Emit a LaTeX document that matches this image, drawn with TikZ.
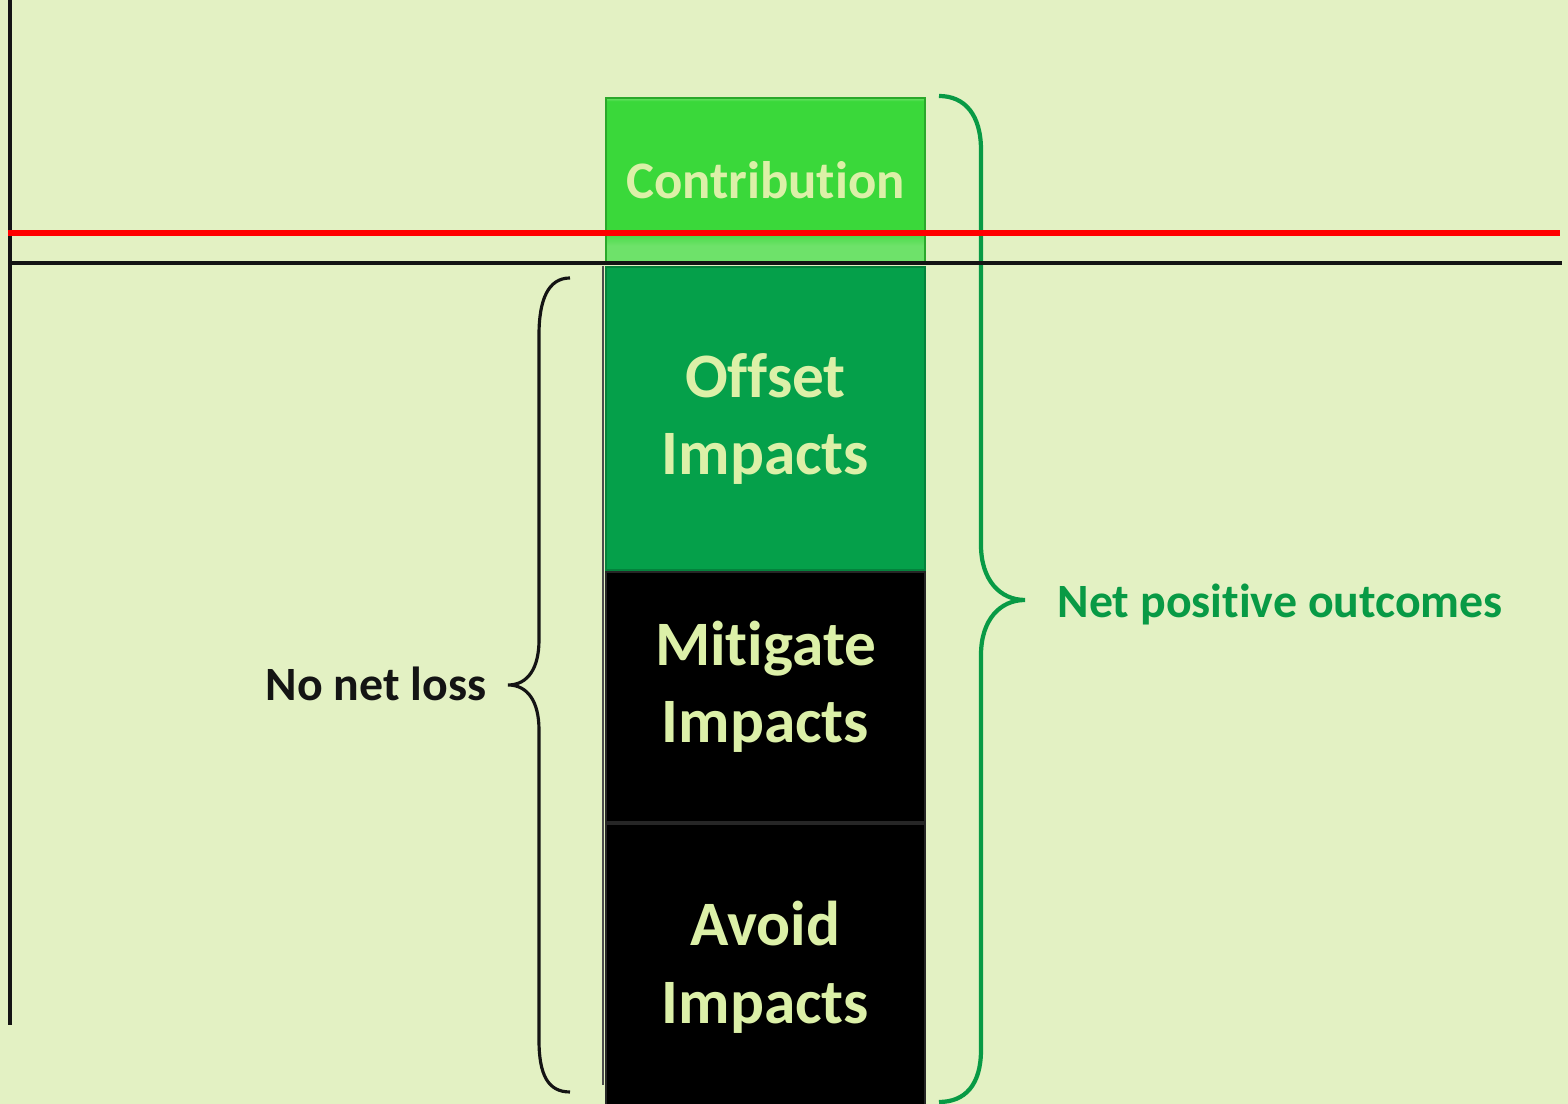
\documentclass[tikz,border=0pt]{standalone}
\usepackage{fontspec}
\setmainfont{Carlito}[Ligatures=NoCommon]
\usetikzlibrary{positioning}
\definecolor{bgpale}{HTML}{E3F1C3}
\definecolor{contribgreen}{HTML}{3AD83A}
\definecolor{contriblight}{HTML}{6EE26A}
\definecolor{contribedge}{HTML}{2BA82B}
\definecolor{offsetgreen}{HTML}{05A04A}
\definecolor{offsetedge}{HTML}{04823C}
\definecolor{boxtext}{HTML}{DCF0A8}
\definecolor{netgreen}{HTML}{089A45}
\pgfdeclareverticalshading{contribshade}{100bp}{color(0bp)=(contriblight); color(30bp)=(contriblight);
  color(35bp)=(contribgreen); color(74bp)=(contribgreen); color(75bp)=(contriblight); color(100bp)=(contriblight)}

\begin{document}
\begin{tikzpicture}[
 x=0.01cm, y=-0.01cm,
 align=center,
 inner sep=0pt,
 box/.style={rectangle,minimum width=3.19cm,text=boxtext,line width=0.6pt,
   font=\bfseries\fontsize{18}{21.9}\selectfont},
 darkbox/.style={box,fill=black,draw=black!85!white},
 axis/.style={draw=black!92!white,line width=1.2pt},
 label/.style={font=\bfseries\fontsize{13.6}{16}\selectfont}
]
\useasboundingbox (0,0) rectangle (1568,1104);
\fill [bgpale] (0,0) rectangle (1568,1104);
\node (contribution-box) [box,shading=contribshade,draw=contribedge,minimum height=1.64cm,
  font=\bfseries\fontsize{15}{18}\selectfont] at (765.5,180) {Contribution};
\node (offset-box) [box,fill=offsetgreen,draw=offsetedge,minimum height=3.03cm,
  below=0.03cm of contribution-box] {Offset\\Impacts};
\node (mitigate-box) [darkbox,minimum height=2.49cm,text depth=0.3cm,below=0pt of offset-box] {Mitigate\\Impacts};
\node (avoid-box) [darkbox,minimum height=2.87cm,below=0pt of mitigate-box] {Avoid\\Impacts};
\coordinate (loss-tip) at (508,685);
\coordinate (net-tip) at (1025,600);
\node (loss-label) [label,text=black!92!white,anchor=east] at (487,684) {No net loss};
\node (net-label) [label,text=netgreen,anchor=west] at (1057,604) {Net positive outcomes};
\draw [line width=0.9pt,black!92!white]
  (570,278) .. controls (548,278) and (539,300) .. (539,335) -- (539,640)
  .. controls (539,668) and (528,685) .. (loss-tip)
  .. controls (528,685) and (539,702) .. (539,730) -- (539,1040)
  .. controls (539,1075) and (548,1092) .. (570,1092);
\draw [line width=1.2pt,netgreen]
  (939,96) .. controls (965,96) and (981,115) .. (981,150) -- (981,545)
  .. controls (981,580) and (1000,600) .. (net-tip)
  .. controls (1000,600) and (981,620) .. (981,655) -- (981,1050)
  .. controls (981,1085) and (965,1102) .. (939,1102);
\draw [black!70!white,line width=0.6pt] (603,266) -- (603,1085);
\coordinate (axis-top) at (10,0);
\coordinate (axis-bottom) at (10,1025);
\coordinate (axis-right) at (1562,263);
\draw [axis,line width=1.4pt] (axis-top) -- (axis-bottom);
\draw [axis] (10,263) -- (axis-right);
\draw [red,line width=1.7pt] (8,233) -- (1560,233);
\end{tikzpicture}
\end{document}
